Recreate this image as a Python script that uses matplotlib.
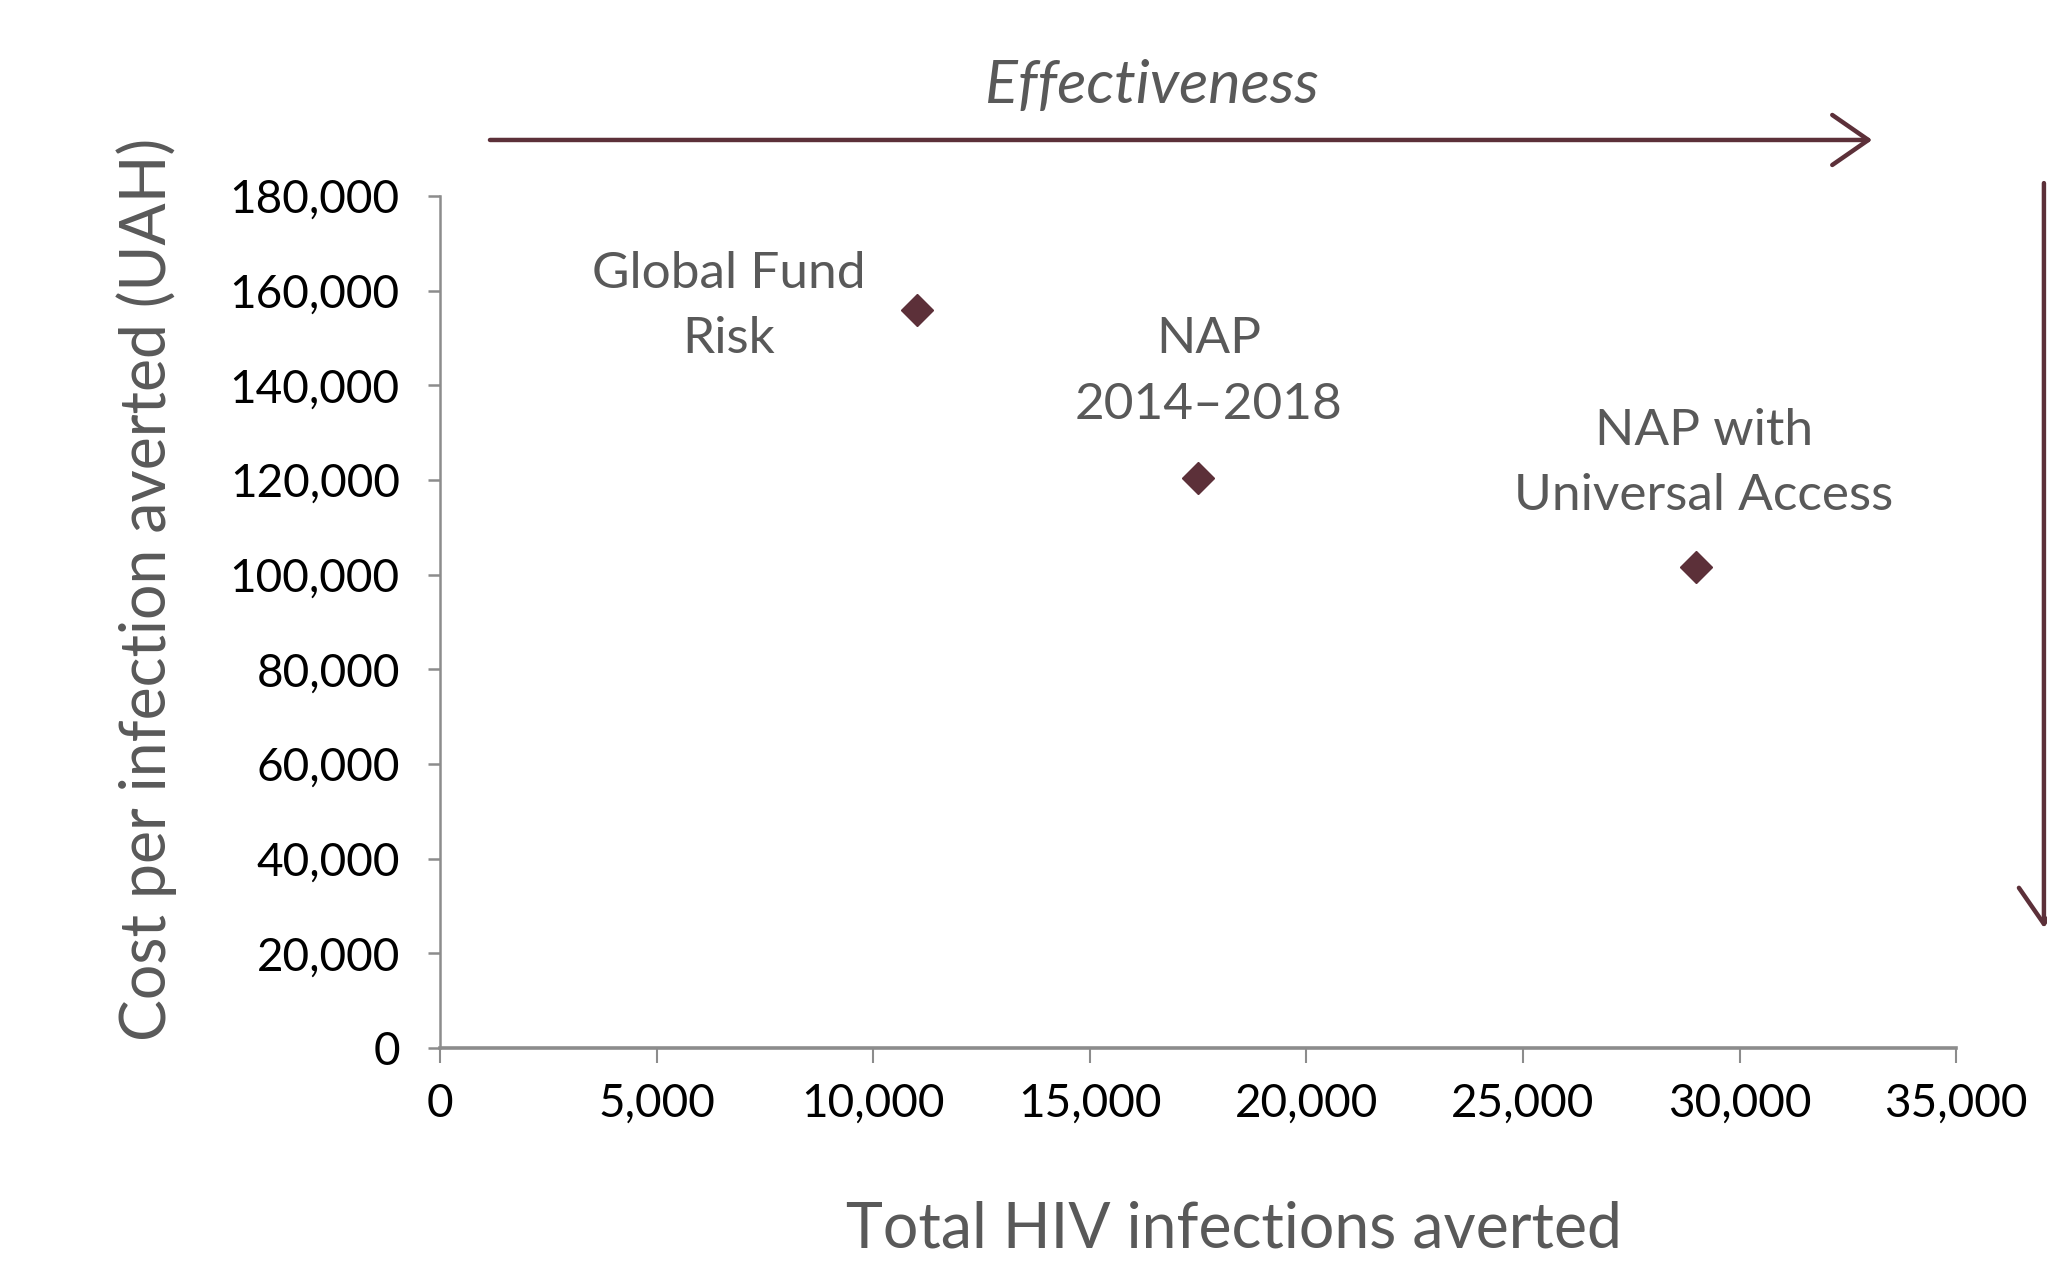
import matplotlib
matplotlib.use("Agg")
import matplotlib.pyplot as plt
from matplotlib.ticker import FuncFormatter

# Data
scenarios = ["Global Fund\nRisk", "NAP\n2014\u20132018", "NAP with\nUniversal Access"]
infections_averted = [11000, 17500, 29000]
cost_per_infection = [156000, 120500, 101500]
x_ticks = [0, 5000, 10000, 15000, 20000, 25000, 30000, 35000]
y_ticks = [0, 20000, 40000, 60000, 80000, 100000, 120000, 140000, 160000, 180000]

MAROON = "#5c3039"
GRAY_TEXT = "#595959"
AXIS_GRAY = "#8c8c8c"

plt.rcParams['font.family'] = ['Lato', 'DejaVu Sans']

fig = plt.figure(figsize=(20.47, 12.61), dpi=100)
ax = fig.add_axes([0.215, 0.169, 0.9556 - 0.215, 0.8446 - 0.169])

ax.plot(infections_averted, cost_per_infection, linestyle="none", marker="D",
        markersize=16, color=MAROON, clip_on=False, zorder=3)

# Labels near markers
label_offsets = [(-135, 2), (7.5, 76), (5.6, 75)]
for (x, y, s, off) in zip(infections_averted, cost_per_infection, scenarios, label_offsets):
    ax.annotate(s, (x, y), xytext=off, textcoords="offset points",
                ha="center", va="center", fontsize=37, color=GRAY_TEXT,
                fontweight="normal", linespacing=1.52)

ax.set_xlim(0, 35000)
ax.set_ylim(0, 180000)
ax.set_xticks(x_ticks)
ax.set_yticks(y_ticks)
fmt = FuncFormatter(lambda v, p: f"{int(v):,}")
ax.xaxis.set_major_formatter(fmt)
ax.yaxis.set_major_formatter(fmt)

for s in ["top", "right"]:
    ax.spines[s].set_visible(False)
ax.spines["left"].set_color(AXIS_GRAY)
ax.spines["left"].set_linewidth(1.8)
ax.spines["bottom"].set_color(AXIS_GRAY)
ax.spines["bottom"].set_linewidth(2.6)

ax.tick_params(axis="y", direction="out", length=9, width=1.8, color=AXIS_GRAY,
               labelsize=33, labelcolor="black", pad=20)
ax.tick_params(axis="x", direction="out", length=11, width=1.5, color=AXIS_GRAY,
               labelsize=33, labelcolor="black", pad=14)

fig.text(0.0715, 0.533, "Cost per infection averted (UAH)", rotation=90,
         ha="center", va="center", fontsize=45, color=GRAY_TEXT, fontweight="normal")
fig.text(0.603, 0.0246, "Total HIV infections averted", ha="center", va="center",
         fontsize=45, color=GRAY_TEXT, fontweight="normal")

# Effectiveness arrow
fig.text(0.5625, 0.932, "Effectiveness", ha="center", va="center",
         fontsize=44, color=GRAY_TEXT, style="italic", fontweight="normal")
fig.add_artist(matplotlib.patches.FancyArrowPatch(
    (0.238, 0.889), (0.916, 0.889), transform=fig.transFigure,
    arrowstyle="->,head_length=1.3,head_width=0.9", color=MAROON, linewidth=3.2,
    mutation_scale=20))
# Vertical arrow on right edge
fig.add_artist(matplotlib.patches.FancyArrowPatch(
    (0.9985, 0.857), (0.9985, 0.262), transform=fig.transFigure,
    arrowstyle="->,head_length=1.3,head_width=0.9", color=MAROON, linewidth=3.2,
    mutation_scale=20))

fig.savefig("out.png", dpi=100)
